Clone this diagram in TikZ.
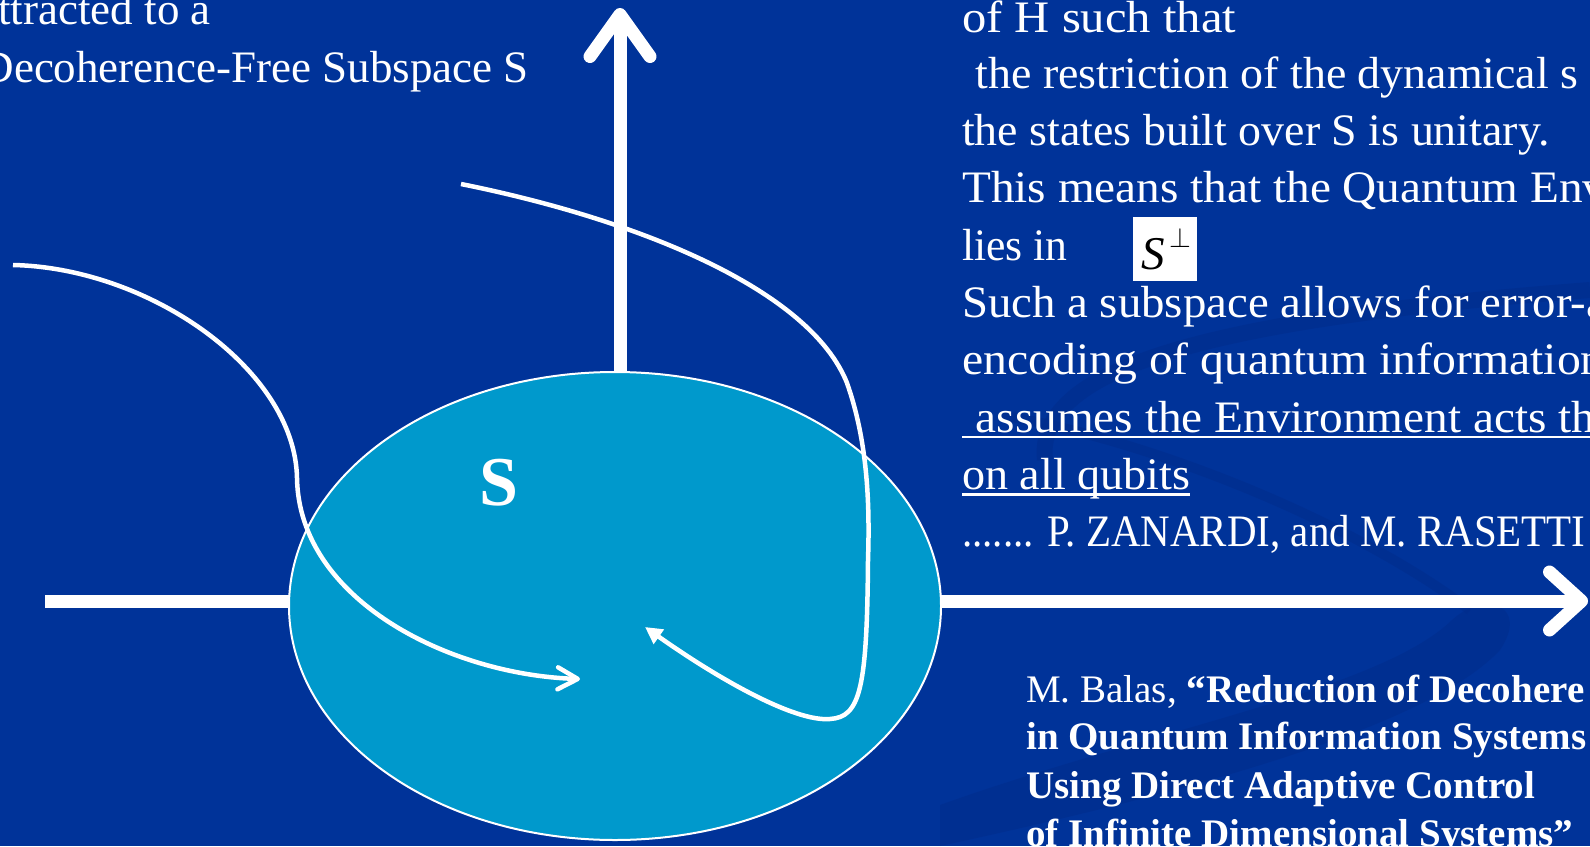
\documentclass[tikz,border=0pt]{standalone}
\usepackage{fontspec}
\usepackage{graphicx}
\setmainfont{Liberation Serif}
\usetikzlibrary{arrows.meta,shapes.geometric}
\definecolor{bgblue}{RGB}{0,51,153}
\definecolor{ellblue}{RGB}{0,153,204}
\definecolor{swirlblue}{RGB}{0,44,140}
\newcommand{\hsc}[2]{\scalebox{#1}[1]{#2}}
\tikzset{
  axisline/.style={draw=white, line width=13pt},
  traj/.style={draw=white, line width=4.5pt},
  txt/.style={text=white, inner sep=0pt, anchor=base west, font=\fontsize{45}{57}\selectfont},
  citetxt/.style={text=white, inner sep=0pt, anchor=base west, font=\fontsize{39}{48}\selectfont},
  citebold/.style={citetxt, font=\fontsize{39}{48}\selectfont\bfseries},
  uline/.style={draw=white, line width=2.5pt},
  swirl/.style={fill=swirlblue, opacity=0.55},
  swirlline/.style={draw=swirlblue, opacity=0.55}
}
\begin{document}
\begin{tikzpicture}[x=1pt,y=-1pt]
\useasboundingbox (0,0) rectangle (1590,846);
\clip (0,0) rectangle (1590,846);
\fill[bgblue] (0,0) rectangle (1590,846);
% background swirls
\fill[swirl] (940,805) .. controls (1150,730) and (1380,690) .. (1452,620)
  .. controls (1485,590) and (1530,605) .. (1500,650)
  .. controls (1430,725) and (1200,790) .. (940,846) -- cycle;
\draw[swirlline, line width=16pt] (1045,460) .. controls (1035,370) and (1200,320) .. (1590,290);
\draw[swirlline, line width=10pt] (1000,415) .. controls (1150,440) and (1350,520) .. (1470,610);
% axes
\coordinate (hstart) at (45,601);
\coordinate (hend) at (1588,601);
\coordinate (vstart) at (620,600);
\coordinate (vend) at (620,8);
\draw[axisline, -{Straight Barb[length=32pt,width=58pt,round]}] (hstart) -- (hend);
\draw[axisline, -{Straight Barb[length=42pt,width=60pt,round]}] (vstart) -- (vend);
% subspace ellipse
\node[ellipse, draw=white, line width=2pt, fill=ellblue, minimum width=652pt, minimum height=468pt, inner sep=0pt] (ell) at (615,606) {};
\node[text=white, inner sep=0pt, anchor=base, font=\fontsize{70}{70}\selectfont\bfseries] (slabel) at (499,505) {S};
% trajectories
\coordinate (a0) at (13,265);
\coordinate (a1) at (297,478);
\coordinate (a2) at (580,679);
\draw[traj, -{Straight Barb[length=20pt,width=22pt,round]}] (a0) .. controls (150,268) and (295,370) .. (a1) .. controls (299,600) and (450,675) .. (a2);
\coordinate (b0) at (461,184);
\coordinate (b1) at (847,383);
\coordinate (b2) at (868,560);
\coordinate (b3) at (830,719);
\coordinate (b4) at (645,627);
\draw[traj, line join=round, -{Triangle[length=17pt,width=17pt]}] (b0) .. controls (640,220) and (810,290) .. (b1) .. controls (867,440) and (870,500) .. (b2) .. controls (867,690) and (860,717) .. (b3) .. controls (795,722) and (720,680) .. (b4);
% left text
\node[txt, anchor=base east] (l1) at (211,24) {ttracted to a};
\node[txt, anchor=base east] (l2) at (529,82) {Decoherence-Free Subspace S};
% right text
\node[txt] (r1) at (962,32) {\hsc{1.08}{of H such that}};
\node[txt] (r2) at (962,88.3) {\hsc{1.02}{\hspace*{13pt}the restriction of the dynamical s}};
\node[txt] (r3) at (962,145.6) {\hsc{1.02}{the states built over S is unitary.}};
\node[txt] (r4) at (962,202.9) {\hsc{1.05}{This means that the Quantum Env}};
\node[txt] (r5) at (962,260.2) {\hsc{0.97}{lies in}};
\node[fill=white, minimum width=64pt, minimum height=64pt, inner sep=0pt] (sperpbox) at (1165,249) {};
\node[inner sep=0pt, anchor=base west, text=black, font=\fontsize{47}{47}\selectfont\itshape] (sperpS) at (1141,269) {S};
\node[inner sep=0pt, text=black] (sperpsym) at (1180,238) {\scalebox{2.8}{$\perp$}};
\node[txt] (r6) at (962,317.5) {\hsc{1.04}{Such a subspace allows for error-a}};
\node[txt] (r7) at (962,374.8) {\hsc{1.06}{encoding of quantum information}};
\node[txt] (r8) at (962,432.1) {\hsc{1.05}{\hspace*{13pt}assumes the Environment acts th}};
\node[txt] (r9) at (962,489.4) {\hsc{1.025}{on all qubits}};
\node[txt] (r10) at (962,546.7) {\hsc{0.91}{....... P. ZANARDI, and M. RASETTI}};
\coordinate (redge) at (1590,0);
\draw[uline] ([yshift=-5pt]r8.base west) -- ([yshift=-5pt]r8.base west -| redge);
\draw[uline] ([yshift=-5pt]r9.base west) -- ([yshift=-5pt]r9.base east);
% citation
\node[citetxt] (c1) at (1026,702) {M. Balas, \textbf{“Reduction of Decohere}};
\node[citebold] (c2) at (1026,749) {in Quantum Information Systems};
\node[citebold] (c3) at (1026,798) {Using Direct Adaptive Control};
\node[citebold] (c4) at (1026,846) {of Infinite Dimensional Systems”};
\end{tikzpicture}
\end{document}
